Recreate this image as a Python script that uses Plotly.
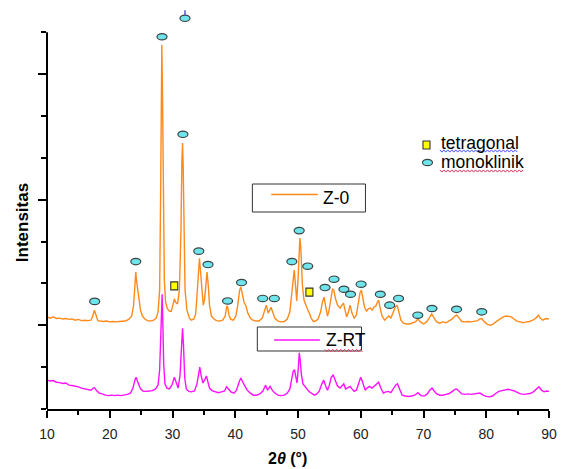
import plotly.graph_objects as go

# ---------------- data ----------------
# Z-0 XRD pattern (2θ in degrees, intensity in a.u., stacked above Z-RT)
z0_2theta = [10.0, 10.5, 11.0, 11.5, 12.0, 12.5, 13.0, 13.5, 14.0, 14.5, 15.0, 15.5, 16.0, 16.5, 17.0,
             17.3, 17.55, 17.8, 18.1, 18.5, 19.0, 19.5, 20.0, 20.5, 21.0, 21.5, 22.0, 22.5, 23.0, 23.5,
             23.8, 24.0, 24.15, 24.3, 24.5, 24.7, 24.9, 25.2, 25.6, 26.0, 26.5, 27.0, 27.4, 27.7, 27.95,
             28.1, 28.2, 28.3, 28.4, 28.55, 28.7, 28.9, 29.2, 29.5, 29.8, 30.1, 30.3, 30.5, 30.8, 31.1,
             31.35, 31.5, 31.6, 31.7, 31.85, 32.0, 32.3, 32.7, 33.0, 33.4, 33.7, 33.95, 34.15, 34.3, 34.45,
             34.7, 34.9, 35.1, 35.35, 35.5, 35.7, 35.9, 36.2, 36.6, 37.0, 37.5, 38.0, 38.4, 38.65, 38.8,
             39.0, 39.3, 39.7, 40.1, 40.4, 40.7, 40.9, 41.1, 41.4, 41.7, 42.0, 42.4, 42.8, 43.3, 43.8,
             44.3, 44.7, 44.95, 45.25, 45.45, 45.7, 45.95, 46.3, 46.8, 47.3, 47.8, 48.3, 48.7, 49.0, 49.25,
             49.4, 49.6, 49.8, 50.0, 50.15, 50.3, 50.45, 50.7, 50.95, 51.2, 51.5, 51.8, 52.1, 52.45, 52.8,
             53.2, 53.6, 53.9, 54.15, 54.4, 54.7, 54.9, 55.2, 55.5, 55.7, 55.95, 56.3, 56.7, 57.0, 57.25,
             57.5, 57.75, 58.0, 58.3, 58.6, 58.95, 59.3, 59.6, 59.9, 60.1, 60.35, 60.6, 60.9, 61.2, 61.5,
             61.8, 62.1, 62.4, 62.65, 62.85, 63.1, 63.4, 63.8, 64.1, 64.45, 64.8, 65.1, 65.5, 65.8, 66.1,
             66.4, 66.8, 67.3, 67.8, 68.3, 68.7, 69.1, 69.5, 70.0, 70.5, 70.9, 71.3, 71.7, 72.1, 72.6,
             73.1, 73.6, 74.1, 74.6, 75.0, 75.3, 75.7, 76.1, 76.6, 77.1, 77.6, 78.1, 78.6, 79.0, 79.3,
             79.7, 80.2, 80.7, 81.2, 81.7, 82.2, 82.7, 83.2, 83.6, 84.0, 84.4, 84.9, 85.4, 85.9, 86.4,
             86.9, 87.4, 87.9, 88.3, 88.6, 89.0, 89.5, 90.0]
z0_int = [2.20, 2.17, 2.20, 2.16, 2.17, 2.15, 2.16, 2.14, 2.15, 2.12, 2.14, 2.11, 2.12, 2.11, 2.12,
          2.22, 2.36, 2.22, 2.11, 2.10, 2.09, 2.10, 2.08, 2.09, 2.08, 2.09, 2.09, 2.10, 2.14, 2.22,
          2.48, 2.96, 3.27, 3.03, 2.79, 2.65, 2.36, 2.22, 2.15, 2.11, 2.10, 2.12, 2.17, 2.32, 2.84,
          4.99, 7.37, 8.69, 7.61, 4.99, 3.08, 2.55, 2.39, 2.34, 2.33, 2.51, 2.63, 2.55, 2.51, 2.84,
          4.27, 5.94, 6.35, 5.82, 4.03, 2.84, 2.36, 2.17, 2.12, 2.15, 2.27, 2.84, 3.44, 3.60, 3.32,
          2.72, 2.48, 2.60, 3.08, 3.27, 2.96, 2.48, 2.22, 2.15, 2.11, 2.10, 2.12, 2.22, 2.46, 2.43,
          2.24, 2.14, 2.12, 2.22, 2.48, 2.84, 2.91, 2.77, 2.55, 2.46, 2.29, 2.17, 2.12, 2.10, 2.10,
          2.17, 2.36, 2.48, 2.29, 2.34, 2.43, 2.32, 2.17, 2.10, 2.08, 2.09, 2.15, 2.32, 2.72, 3.20,
          3.32, 2.96, 2.58, 3.08, 3.79, 4.08, 3.84, 2.96, 2.60, 2.48, 2.39, 2.29, 2.17, 2.09, 2.10,
          2.15, 2.32, 2.55, 2.67, 2.46, 2.22, 2.32, 2.65, 2.86, 2.84, 2.65, 2.48, 2.41, 2.48, 2.53,
          2.36, 2.20, 2.29, 2.48, 2.29, 2.17, 2.24, 2.53, 2.79, 2.84, 2.60, 2.43, 2.34, 2.39, 2.41,
          2.36, 2.43, 2.46, 2.55, 2.60, 2.41, 2.22, 2.12, 2.17, 2.22, 2.17, 2.27, 2.43, 2.48, 2.32,
          2.12, 2.05, 2.03, 2.03, 2.05, 2.08, 2.15, 2.08, 2.03, 2.08, 2.17, 2.27, 2.17, 2.08, 2.05,
          2.08, 2.06, 2.10, 2.15, 2.22, 2.24, 2.17, 2.09, 2.08, 2.09, 2.08, 2.10, 2.11, 2.15, 2.16,
          2.08, 2.02, 2.00, 2.04, 2.10, 2.15, 2.20, 2.22, 2.21, 2.20, 2.15, 2.10, 2.08, 2.06, 2.08,
          2.09, 2.12, 2.17, 2.24, 2.17, 2.12, 2.16, 2.15]

# Z-RT XRD pattern
zrt_2theta = [10.0, 10.5, 11.0, 11.5, 12.0, 12.5, 13.0, 13.5, 14.0, 14.5, 15.0, 15.5, 16.0, 16.5, 17.0,
              17.3, 17.55, 17.9, 18.3, 18.8, 19.3, 19.8, 20.3, 20.8, 21.3, 21.8, 22.3, 22.8, 23.3, 23.7,
              24.0, 24.2, 24.4, 24.6, 24.9, 25.3, 25.8, 26.3, 26.8, 27.3, 27.7, 27.95, 28.1, 28.25, 28.35,
              28.45, 28.6, 28.8, 29.1, 29.5, 29.9, 30.3, 30.6, 30.9, 31.2, 31.45, 31.6, 31.75, 31.95, 32.2,
              32.6, 33.0, 33.5, 33.9, 34.15, 34.35, 34.55, 34.85, 35.1, 35.4, 35.65, 35.9, 36.3, 36.8, 37.3,
              37.8, 38.3, 38.6, 38.9, 39.3, 39.8, 40.2, 40.6, 40.9, 41.2, 41.5, 41.9, 42.4, 42.9, 43.4,
              43.9, 44.4, 44.85, 45.15, 45.55, 45.9, 46.3, 46.8, 47.3, 47.8, 48.3, 48.7, 49.0, 49.25, 49.45,
              49.65, 49.85, 50.05, 50.2, 50.35, 50.55, 50.8, 51.1, 51.4, 51.8, 52.2, 52.6, 53.0, 53.4, 53.8,
              54.1, 54.4, 54.7, 55.0, 55.3, 55.6, 55.9, 56.3, 56.7, 57.0, 57.3, 57.6, 57.9, 58.3, 58.6,
              58.95, 59.3, 59.7, 60.0, 60.3, 60.7, 61.0, 61.4, 61.8, 62.2, 62.55, 62.85, 63.2, 63.6, 64.0,
              64.4, 64.8, 65.2, 65.55, 65.85, 66.2, 66.6, 67.1, 67.6, 68.1, 68.6, 69.1, 69.6, 70.1, 70.6,
              71.0, 71.35, 71.7, 72.1, 72.6, 73.1, 73.6, 74.1, 74.6, 75.0, 75.3, 75.7, 76.1, 76.6, 77.1,
              77.6, 78.1, 78.6, 79.0, 79.5, 80.0, 80.5, 81.0, 81.5, 82.0, 82.5, 83.0, 83.5, 84.0, 84.5,
              85.0, 85.5, 86.0, 86.5, 87.0, 87.5, 88.0, 88.4, 88.8, 89.2, 89.6, 90.0]
zrt_int = [0.69, 0.67, 0.68, 0.64, 0.63, 0.61, 0.62, 0.57, 0.56, 0.55, 0.53, 0.50, 0.48, 0.47, 0.45,
           0.49, 0.51, 0.44, 0.38, 0.36, 0.33, 0.32, 0.33, 0.32, 0.33, 0.32, 0.33, 0.35, 0.38, 0.50,
           0.69, 0.76, 0.67, 0.57, 0.48, 0.43, 0.42, 0.43, 0.44, 0.48, 0.57, 0.93, 1.89, 2.67, 2.74,
           2.12, 1.05, 0.60, 0.50, 0.48, 0.57, 0.76, 0.60, 0.50, 0.81, 1.77, 1.93, 1.53, 0.74, 0.48,
           0.42, 0.41, 0.43, 0.60, 0.88, 1.00, 0.81, 0.62, 0.69, 0.79, 0.64, 0.50, 0.44, 0.41, 0.39,
           0.41, 0.43, 0.53, 0.48, 0.41, 0.38, 0.45, 0.64, 0.74, 0.64, 0.57, 0.45, 0.38, 0.33, 0.33,
           0.36, 0.43, 0.57, 0.45, 0.54, 0.45, 0.38, 0.33, 0.32, 0.33, 0.38, 0.48, 0.69, 0.91, 0.93,
           0.74, 0.62, 0.98, 1.34, 1.17, 0.81, 0.60, 0.53, 0.48, 0.41, 0.36, 0.33, 0.36, 0.43, 0.60,
           0.69, 0.55, 0.45, 0.57, 0.76, 0.81, 0.69, 0.55, 0.50, 0.55, 0.60, 0.48, 0.50, 0.54, 0.48,
           0.42, 0.45, 0.64, 0.76, 0.64, 0.45, 0.50, 0.54, 0.50, 0.55, 0.60, 0.64, 0.50, 0.38, 0.41,
           0.42, 0.39, 0.48, 0.57, 0.60, 0.45, 0.33, 0.31, 0.30, 0.31, 0.33, 0.39, 0.32, 0.31, 0.36,
           0.45, 0.50, 0.43, 0.36, 0.33, 0.33, 0.35, 0.37, 0.42, 0.47, 0.48, 0.41, 0.36, 0.35, 0.36,
           0.35, 0.36, 0.37, 0.38, 0.33, 0.30, 0.29, 0.31, 0.37, 0.42, 0.44, 0.45, 0.47, 0.45, 0.43,
           0.39, 0.36, 0.35, 0.36, 0.37, 0.41, 0.48, 0.53, 0.45, 0.41, 0.43, 0.42]

# phase labels placed over the Z-0 reflections
mono_2theta = [17.6, 24.15, 28.33, 31.99, 31.66, 34.19, 35.66, 38.78, 41.0, 44.38, 46.23, 49.02, 50.19,
               51.55, 54.31, 55.74, 57.32, 58.37, 60.06, 63.12, 64.61, 66.03, 69.09, 71.35, 75.27, 79.28]
mono_level = [2.57, 3.52, 8.89, 9.33, 6.56, 3.77, 3.45, 2.58, 3.02, 2.64, 2.64, 3.52, 4.26,
              3.41, 2.90, 3.10, 2.86, 2.74, 2.98, 2.74, 2.48, 2.64, 2.24, 2.40, 2.38, 2.32]
tetra_2theta = [30.28, 51.82]
tetra_level = [2.94, 2.79]

x_ticks = [10, 20, 30, 40, 50, 60, 70, 80, 90]

# ---------------- style ----------------
W, H = 564, 469
ML, MR, MT, MB = 47, 11, 7, 60
PW, PH = W - ML - MR, H - MT - MB
FONT = "Liberation Sans, Arial, sans-serif"
ORANGE = "#ff8a1c"
MAGENTA = "#ff10ff"
CYAN = "#6fe4ea"
EDGE = "#3a4444"


def paper(xp, yp):
    """pixel position in the page -> paper coordinates"""
    return (xp - ML) / PW, (H - MB - yp) / PH


fig = go.Figure()
fig.add_trace(go.Scatter(x=z0_2theta, y=z0_int, mode="lines",
                         line=dict(color=ORANGE, width=1.4), name="Z-0", showlegend=False))
fig.add_trace(go.Scatter(x=zrt_2theta, y=zrt_int, mode="lines",
                         line=dict(color=MAGENTA, width=1.4), name="Z-RT", showlegend=False))

shapes = []
# monoclinic reflections: small cyan ellipses
for t, lv in zip(mono_2theta, mono_level):
    shapes.append(dict(type="circle", xref="x", yref="y", xsizemode="pixel", ysizemode="pixel",
                       xanchor=t, yanchor=lv, x0=-5, x1=5, y0=-3.2, y1=3.2,
                       fillcolor=CYAN, line=dict(color=EDGE, width=1.2)))
# tetragonal reflections: yellow squares
for t, lv in zip(tetra_2theta, tetra_level):
    shapes.append(dict(type="rect", xref="x", yref="y", xsizemode="pixel", ysizemode="pixel",
                       xanchor=t, yanchor=lv, x0=-3.5, x1=3.5, y0=-4, y1=4,
                       fillcolor="#ffff00", line=dict(color="#333333", width=1.1)))
# small stroke sitting on the uppermost label
shapes.append(dict(type="line", xref="x", yref="y", ysizemode="pixel",
                   yanchor=mono_level[3], x0=mono_2theta[3], x1=mono_2theta[3], y0=3, y1=8,
                   line=dict(color="#5555cc", width=1.5)))

# left axis line (stops at the top tick)
shapes.append(dict(type="line", xref="paper", yref="y", x0=0, x1=0, y0=0, y1=9,
                   line=dict(color="black", width=2)))


def box(x0p, y0p, x1p, y1p):
    a, b = paper(x0p, y1p)
    c, d = paper(x1p, y0p)
    return dict(type="rect", xref="paper", yref="paper", x0=a, y0=b, x1=c, y1=d,
                fillcolor="white", line=dict(color="#333333", width=1))


def hline(x0p, x1p, yp, color, width=1.5):
    a, b = paper(x0p, yp)
    c, _ = paper(x1p, yp)
    return dict(type="line", xref="paper", yref="paper", x0=a, y0=b, x1=c, y1=b,
                line=dict(color=color, width=width))


def squiggle(x0p, x1p, yp, color):
    pts, k, xp = [], 0, x0p
    while xp <= x1p:
        pts.append(paper(xp, yp + (1.1 if k % 2 else -1.1)))
        xp += 2
        k += 1
    path = "M " + " L ".join(f"{a:.5f},{b:.5f}" for a, b in pts)
    return dict(type="path", xref="paper", yref="paper", path=path,
                line=dict(color=color, width=1))


# series legends
shapes.append(box(254, 184, 368, 212))
shapes.append(hline(273, 320, 194.5, ORANGE))
shapes.append(box(259, 327, 364, 351))
shapes.append(hline(276, 322, 340, MAGENTA))
shapes.append(squiggle(327, 365, 350.5, "#e0305a"))

# phase legend symbols
lx, ly = paper(429.5, 145)
shapes.append(dict(type="rect", xref="paper", yref="paper", xsizemode="pixel", ysizemode="pixel",
                   xanchor=lx, yanchor=ly, x0=-3.5, x1=3.5, y0=-4, y1=4,
                   fillcolor="#ffff00", line=dict(color="#333333", width=1.1)))
lx, ly = paper(430.5, 162.5)
shapes.append(dict(type="circle", xref="paper", yref="paper", xsizemode="pixel", ysizemode="pixel",
                   xanchor=lx, yanchor=ly, x0=-5, x1=5, y0=-3.2, y1=3.2,
                   fillcolor=CYAN, line=dict(color=EDGE, width=1.2)))
shapes.append(squiggle(443, 522, 151, "#4a4aff"))
shapes.append(squiggle(443, 527, 171, "#e0305a"))

annotations = []


def label(text, xp, yp, size=17.5, **kw):
    a, b = paper(xp, yp)
    annotations.append(dict(text=text, x=a, y=b, xref="paper", yref="paper", showarrow=False,
                            xanchor=kw.pop("xanchor", "left"), yanchor="middle",
                            font=dict(family=FONT, size=size, color="black"), **kw))


label("Z-0", 323, 198)
label("Z-RT", 326, 339.5)
label("tetragonal", 442, 142.5)
label("monoklinik", 442, 161.5)
label("<b>2<i>θ</i> (°)</b>", 289, 458, size=16, xanchor="center")
label("<b>Intensitas</b>", 22, 223, size=17, xanchor="center", textangle=-90)

fig.update_layout(
    width=W, height=H,
    margin=dict(l=ML, r=MR, t=MT, b=MB),
    paper_bgcolor="white", plot_bgcolor="white",
    showlegend=False,
    shapes=shapes, annotations=annotations,
    xaxis=dict(range=[10, 90], tickmode="array", tickvals=x_ticks,
               ticks="outside", ticklen=7, tickwidth=1.5, tickcolor="black",
               minor=dict(dtick=5, tick0=10, ticks="outside", ticklen=4, tickwidth=1.5, tickcolor="black"),
               showline=True, linecolor="black", linewidth=2, mirror=False,
               showgrid=False, zeroline=False, ticklabelstandoff=4,
               tickfont=dict(family=FONT, size=14, color="#222222")),
    yaxis=dict(range=[0, 9.6], tickmode="array", tickvals=[2, 5, 8],
               ticks="outside", ticklen=8, tickwidth=1.5, tickcolor="black",
               minor=dict(tickmode="array", tickvals=[0, 1, 3, 4, 6, 7, 9], ticks="outside",
                          ticklen=5, tickwidth=1.5, tickcolor="black"),
               showline=False, showticklabels=False, showgrid=False, zeroline=False),
)

fig.write_html("out.html")
